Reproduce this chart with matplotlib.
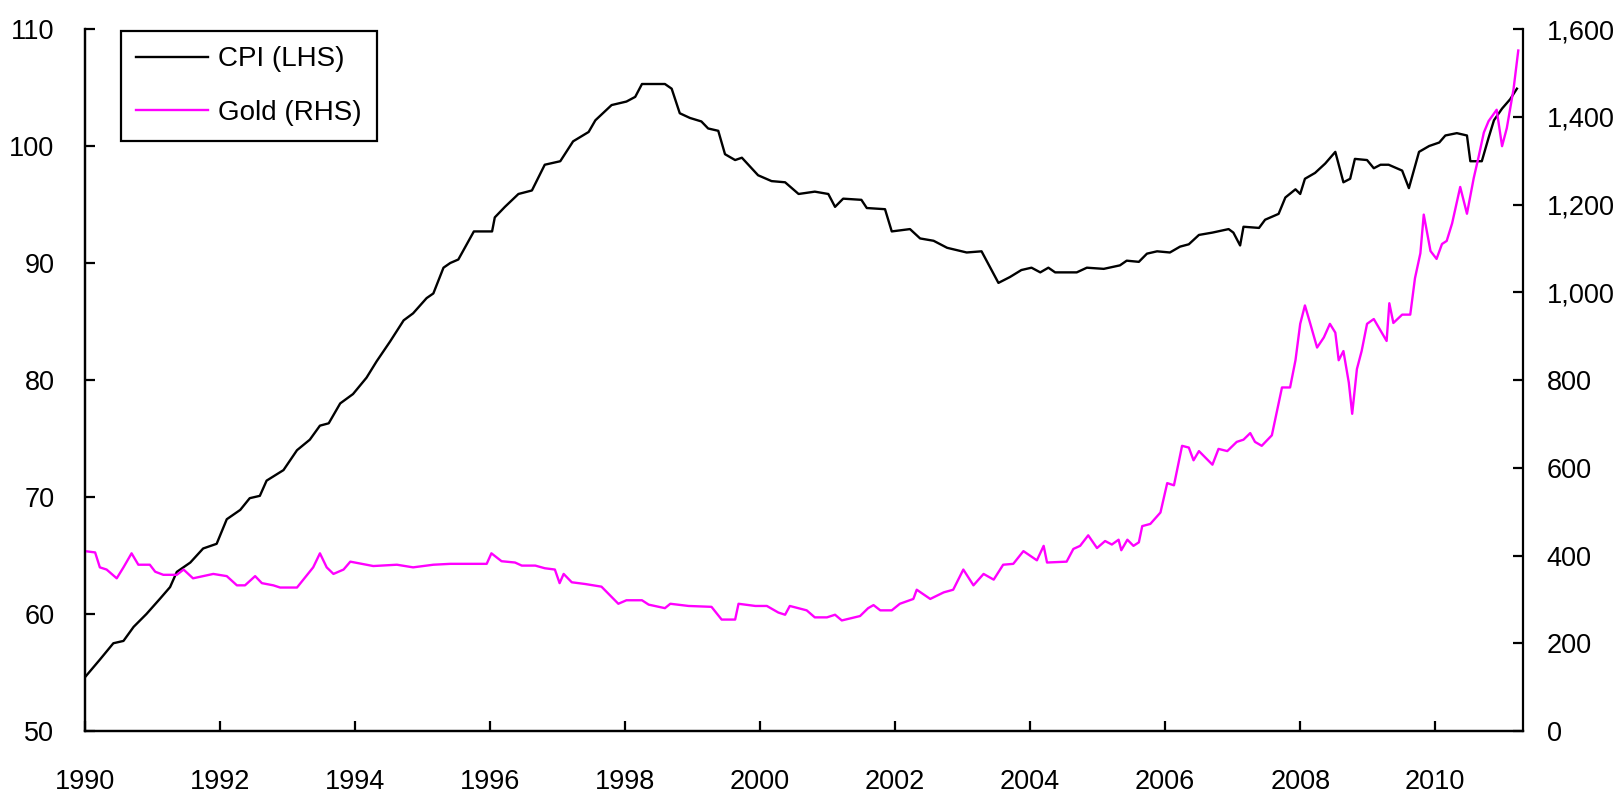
import matplotlib
matplotlib.use("Agg")
import matplotlib.pyplot as plt
from matplotlib.ticker import FuncFormatter

plt.rcParams["font.family"] = ["Liberation Sans", "DejaVu Sans"]

# decimal-year positions and index levels
cpi_years = [
    1990.00, 1990.22, 1990.42, 1990.57, 1990.72, 1990.91, 1991.11, 1991.26, 1991.36, 1991.56,
    1991.75, 1991.95, 1992.10, 1992.30, 1992.44, 1992.59, 1992.69, 1992.94, 1993.14, 1993.33,
    1993.48, 1993.61, 1993.78, 1993.97, 1994.17, 1994.32, 1994.52, 1994.72, 1994.86, 1995.06,
    1995.16, 1995.31, 1995.41, 1995.53, 1995.76, 1996.03, 1996.07, 1996.22, 1996.42, 1996.62,
    1996.81, 1997.04, 1997.23, 1997.46, 1997.56, 1997.80, 1998.02, 1998.15, 1998.25, 1998.59,
    1998.69, 1998.81, 1998.96, 1999.13, 1999.23, 1999.38, 1999.48, 1999.63, 1999.73, 1999.97,
    2000.17, 2000.37, 2000.57, 2000.81, 2001.01, 2001.11, 2001.23, 2001.50, 2001.58, 2001.85,
    2001.95, 2002.22, 2002.37, 2002.57, 2002.77, 2003.06, 2003.28, 2003.41, 2003.53, 2003.70,
    2003.87, 2004.02, 2004.15, 2004.27, 2004.37, 2004.69, 2004.84, 2005.09, 2005.33, 2005.43,
    2005.61, 2005.73, 2005.88, 2006.07, 2006.22, 2006.35, 2006.50, 2006.70, 2006.94, 2007.01,
    2007.11, 2007.16, 2007.39, 2007.48, 2007.68, 2007.78, 2007.93, 2008.00, 2008.07, 2008.22,
    2008.37, 2008.52, 2008.64, 2008.74, 2008.81, 2008.99, 2009.09, 2009.19, 2009.31, 2009.51,
    2009.61, 2009.76, 2009.91, 2010.06, 2010.15, 2010.32, 2010.47, 2010.52, 2010.69, 2010.79,
    2010.87, 2010.99, 2011.11, 2011.21,
]
cpi_values = [
    54.6, 56.1, 57.5, 57.7, 58.9, 60.0, 61.3, 62.3, 63.6, 64.4,
    65.6, 66.0, 68.1, 68.9, 69.9, 70.1, 71.4, 72.3, 74.0, 74.9,
    76.1, 76.3, 78.0, 78.8, 80.2, 81.6, 83.3, 85.1, 85.7, 87.0,
    87.4, 89.6, 90.0, 90.3, 92.7, 92.7, 93.9, 94.8, 95.9, 96.2,
    98.4, 98.7, 100.4, 101.2, 102.2, 103.5, 103.8, 104.2, 105.3, 105.3,
    104.9, 102.8, 102.4, 102.1, 101.5, 101.3, 99.3, 98.8, 99.0, 97.5,
    97.0, 96.9, 95.9, 96.1, 95.9, 94.8, 95.5, 95.4, 94.7, 94.6,
    92.7, 92.9, 92.1, 91.9, 91.3, 90.9, 91.0, 89.6, 88.3, 88.8,
    89.4, 89.6, 89.2, 89.6, 89.2, 89.2, 89.6, 89.5, 89.8, 90.2,
    90.1, 90.8, 91.0, 90.9, 91.4, 91.6, 92.4, 92.6, 92.9, 92.6,
    91.5, 93.1, 93.0, 93.7, 94.2, 95.6, 96.3, 95.9, 97.2, 97.7,
    98.5, 99.5, 96.9, 97.2, 98.9, 98.8, 98.1, 98.4, 98.4, 97.9,
    96.4, 99.5, 100.0, 100.3, 100.9, 101.1, 100.9, 98.7, 98.7, 100.7,
    102.2, 103.2, 104.0, 104.9,
]

gold_years = [
    1990.00, 1990.15, 1990.22, 1990.32, 1990.47, 1990.57, 1990.69, 1990.79, 1990.96, 1991.04,
    1991.16, 1991.36, 1991.46, 1991.60, 1991.90, 1992.10, 1992.25, 1992.37, 1992.52, 1992.62,
    1992.79, 1992.89, 1993.14, 1993.38, 1993.48, 1993.58, 1993.68, 1993.83, 1993.93, 1994.17,
    1994.27, 1994.62, 1994.86, 1995.16, 1995.41, 1995.95, 1996.02, 1996.17, 1996.37, 1996.47,
    1996.67, 1996.81, 1996.96, 1997.03, 1997.09, 1997.21, 1997.41, 1997.65, 1997.90, 1998.02,
    1998.25, 1998.35, 1998.59, 1998.67, 1998.94, 1999.28, 1999.43, 1999.63, 1999.68, 1999.93,
    2000.10, 2000.27, 2000.37, 2000.44, 2000.69, 2000.81, 2000.99, 2001.11, 2001.21, 2001.48,
    2001.60, 2001.68, 2001.78, 2001.95, 2002.07, 2002.27, 2002.32, 2002.52, 2002.72, 2002.86,
    2003.01, 2003.16, 2003.31, 2003.46, 2003.60, 2003.75, 2003.90, 2004.10, 2004.20, 2004.25,
    2004.54, 2004.64, 2004.74, 2004.86, 2004.99, 2005.11, 2005.21, 2005.31, 2005.35, 2005.44,
    2005.53, 2005.61, 2005.66, 2005.78, 2005.93, 2006.03, 2006.13, 2006.25, 2006.35, 2006.42,
    2006.50, 2006.70, 2006.79, 2006.92, 2007.06, 2007.16, 2007.26, 2007.33, 2007.43, 2007.58,
    2007.73, 2007.85, 2007.93, 2008.00, 2008.07, 2008.15, 2008.25, 2008.35, 2008.44, 2008.52,
    2008.57, 2008.64, 2008.72, 2008.77, 2008.84, 2008.91, 2008.99, 2009.09, 2009.28, 2009.32,
    2009.38, 2009.51, 2009.63, 2009.70, 2009.78, 2009.83, 2009.93, 2010.02, 2010.10, 2010.17,
    2010.25, 2010.37, 2010.47, 2010.57, 2010.64, 2010.72, 2010.79, 2010.91, 2010.99, 2011.06,
    2011.16, 2011.23,
]
gold_values = [
    410, 407, 373, 368, 348, 373, 405, 379, 379, 363,
    356, 356, 368, 348, 358, 353, 332, 332, 353, 337,
    332, 327, 327, 373, 405, 373, 358, 368, 386, 379,
    376, 379, 373, 379, 381, 381, 405, 387, 384, 377,
    377, 371, 368, 337, 358, 339, 335, 329, 290, 298,
    298, 288, 280, 290, 285, 283, 254, 254, 290, 285,
    285, 270, 265, 285, 275, 259, 259, 265, 252, 262,
    280, 287, 275, 275, 290, 301, 322, 301, 316, 322,
    368, 332, 358, 345, 379, 381, 410, 389, 422, 384,
    386, 415, 422, 446, 417, 433, 425, 436, 412, 436,
    422, 430, 467, 472, 498, 565, 560, 650, 646, 617,
    638, 607, 643, 638, 659, 664, 679, 659, 650, 674,
    783, 783, 845, 928, 970, 928, 874, 897, 928, 908,
    845, 866, 794, 723, 825, 866, 928, 939, 889, 975,
    930, 949, 949, 1032, 1089, 1177, 1094, 1076, 1110, 1117,
    1157, 1240, 1179, 1260, 1307, 1364, 1390, 1416, 1333, 1374,
    1463, 1551,
]

year_ticks = list(range(1990, 2012, 2))
cpi_ticks = [50, 60, 70, 80, 90, 100, 110]
gold_ticks = [0, 200, 400, 600, 800, 1000, 1200, 1400, 1600]

fig = plt.figure(figsize=(16.19, 7.95), dpi=100)
ax = fig.add_axes([0.0525, 0.0805, 0.8882, 0.883])
ax2 = ax.twinx()

l1, = ax.plot(cpi_years, cpi_values, color="black", lw=1.7, label="CPI (LHS)")
l2, = ax2.plot(gold_years, gold_values, color="#ff00ff", lw=1.7, label="Gold (RHS)")

ax.set_xlim(1990, 2011.3)
ax.set_ylim(50, 110)
ax2.set_ylim(0, 1600)
ax.set_xticks(year_ticks)
ax.set_yticks(cpi_ticks)
ax2.set_yticks(gold_ticks)
ax2.yaxis.set_major_formatter(FuncFormatter(lambda v, p: f"{v:,.0f}"))

for a in (ax, ax2):
    for s in a.spines.values():
        s.set_linewidth(1.6)
    a.spines["top"].set_visible(False)
ax.spines["right"].set_visible(False)

ax.tick_params(axis="x", direction="in", length=7, width=1.6, labelsize=19.5, pad=27)
ax.tick_params(axis="y", direction="in", length=7, width=1.6, labelsize=19.5, pad=22)
ax2.tick_params(axis="y", direction="in", length=7, width=1.6, labelsize=19.5, pad=17)

leg = ax2.legend(
    handles=[l1, l2],
    loc="upper left",
    bbox_to_anchor=(0.025, 0.997),
    fontsize=20,
    frameon=True,
    fancybox=False,
    handlelength=2.6,
    handletextpad=0.35,
    labelspacing=1.0,
    borderpad=0.55,
    borderaxespad=0,
)
leg.get_frame().set_edgecolor("black")
leg.get_frame().set_linewidth(1.6)
leg.get_frame().set_alpha(1)

fig.savefig("out.png", dpi=100)
